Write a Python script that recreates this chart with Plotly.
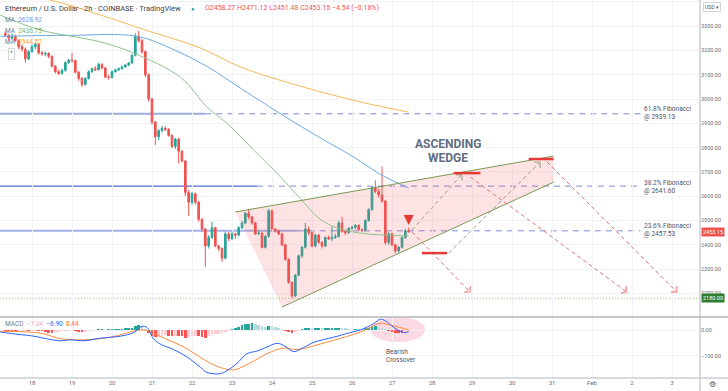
import pandas as pd
import plotly.graph_objects as go
from plotly.subplots import make_subplots

# ---------------- data ----------------
candle_start = "2022-01-17 08:00"
candle_count = 122
candle_times = pd.date_range(candle_start, periods=candle_count, freq="2h")

opens = [3270,3262,3250,3258,3240,3215,3205,3165,3195,3215,
         3225,3190,3185,3188,3175,3135,3112,3105,3118,3150,
         3160,3158,3110,3085,3060,3085,3112,3125,3120,3142,
         3128,3090,3088,3112,3120,3125,3132,3140,3148,3180,
         3258,3240,3195,3100,3000,2905,2845,2870,2880,2875,
         2850,2805,2835,2785,2745,2615,2575,2610,2575,2505,
         2465,2395,2430,2470,2395,2385,2345,2445,2425,2445,
         2440,2470,2490,2530,2515,2490,2445,2448,2390,2435,
         2540,2465,2458,2445,2400,2340,2245,2190,2275,2355,
         2390,2465,2450,2395,2440,2410,2395,2430,2425,2430,
         2435,2490,2455,2450,2468,2472,2480,2462,2460,2500,
         2545,2635,2620,2605,2580,2410,2445,2400,2375,2390,
         2430,2458.27]
highs = [3280,3268,3270,3265,3245,3225,3212,3200,3225,3232,
         3228,3198,3195,3192,3180,3140,3120,3125,3155,3165,
         3190,3162,3115,3090,3090,3118,3130,3135,3150,3148,
         3132,3100,3118,3125,3130,3138,3145,3152,3185,3270,
         3280,3248,3200,3105,3005,2910,2875,2890,2888,2880,
         2855,2840,2840,2790,2750,2625,2618,2615,2580,2510,
         2470,2440,2495,2475,2400,2390,2455,2452,2455,2450,
         2478,2498,2535,2545,2520,2495,2458,2452,2440,2548,
         2545,2470,2462,2450,2405,2345,2250,2280,2360,2395,
         2490,2475,2455,2445,2445,2415,2435,2438,2475,2445,
         2498,2515,2462,2472,2478,2485,2484,2468,2505,2550,
         2640,2665,2630,2722,2585,2452,2450,2405,2395,2435,
         2465,2471.12]
lows = [3255,3240,3245,3235,3205,3195,3150,3160,3190,3205,
        3182,3178,3176,3168,3130,3105,3098,3100,3112,3145,
        3150,3105,3075,3050,3055,3080,3108,3115,3118,3122,
        3085,3080,3085,3108,3115,3120,3128,3135,3145,3175,
        3232,3185,3090,2990,2895,2810,2830,2862,2868,2845,
        2798,2795,2735,2740,2600,2520,2565,2565,2495,2455,
        2310,2385,2425,2390,2375,2330,2340,2415,2420,2425,
        2435,2465,2485,2505,2482,2440,2440,2385,2385,2430,
        2465,2450,2440,2395,2335,2240,2180,2185,2270,2345,
        2385,2440,2390,2390,2405,2385,2390,2420,2415,2425,
        2430,2450,2440,2445,2460,2465,2458,2452,2455,2495,
        2540,2612,2595,2572,2400,2400,2395,2365,2368,2385,
        2425,2451.48]
closes = [3262,3250,3258,3240,3215,3205,3165,3195,3215,3225,
          3190,3185,3188,3175,3135,3112,3105,3118,3150,3160,
          3158,3110,3085,3060,3085,3112,3125,3120,3142,3128,
          3090,3088,3112,3120,3125,3132,3140,3148,3180,3258,
          3240,3195,3100,3000,2905,2845,2870,2880,2875,2850,
          2805,2835,2785,2745,2615,2575,2610,2575,2505,2465,
          2395,2430,2470,2395,2385,2345,2445,2425,2445,2440,
          2470,2490,2530,2515,2490,2445,2448,2390,2435,2540,
          2465,2458,2445,2400,2340,2245,2190,2275,2355,2390,
          2465,2450,2395,2440,2410,2395,2430,2425,2430,2435,
          2490,2455,2450,2468,2472,2480,2462,2460,2500,2545,
          2635,2620,2605,2580,2410,2445,2400,2375,2390,2430,
          2458,2453.15]

macd_hist = [-4,-5,-6,-7,-6,-5,-4,-5,-4,-3,
             -3,-5,-8,-10,-10,-9,-7,-5,-3,-2,
             -1,-4,-7,-9,-8,-5,-2,1,2,2,
             1,3,4,4,5,5,6,7,9,15,
             18,14,5,-10,-22,-28,-26,-22,-20,-22,
             -25,-22,-24,-25,-30,-28,-24,-22,-25,-28,
             -30,-25,-18,-17,-14,-11,-6,-2,3,8,
             13,18,22,25,26,24,20,17,13,16,
             14,10,8,4,-2,-8,-12,-9,-4,2,
             6,7,6,6,8,7,7,7,8,8,
             9,8,6,5,4,4,3,4,6,9,
             12,14,11,8,3,-4,-8,-11,-12,-12,
             -11,-7.34]

macd_t = ["2022-01-17 05:00","2022-01-17 17:00","2022-01-17 23:00","2022-01-18 17:00",
          "2022-01-18 23:00","2022-01-19 07:00","2022-01-19 17:00","2022-01-20 05:00",
          "2022-01-20 13:00","2022-01-20 18:00","2022-01-20 21:00","2022-01-21 01:00",
          "2022-01-21 05:00","2022-01-21 13:00","2022-01-21 21:00","2022-01-22 05:00",
          "2022-01-22 09:00","2022-01-22 17:00","2022-01-22 21:00","2022-01-23 03:00",
          "2022-01-23 09:00","2022-01-23 15:00","2022-01-23 21:00","2022-01-24 03:00",
          "2022-01-24 07:00","2022-01-24 13:00","2022-01-24 19:00","2022-01-25 01:00",
          "2022-01-25 13:00","2022-01-25 23:00","2022-01-26 05:00","2022-01-26 13:00",
          "2022-01-26 17:00","2022-01-26 20:00","2022-01-27 01:00","2022-01-27 07:00",
          "2022-01-27 10:00"]
macd_v = [-8,-18,-22,-42,-38,-42,-32,-24,-10,14,10,-35,-55,-76,-105,-145,-165,-170,
          -158,-130,-92,-82,-66,-52,-60,-84,-68,-48,-28,-10,0,25,42,36,10,-10,-6.9]

signal_t = ["2022-01-17 05:00","2022-01-18 05:00","2022-01-18 17:00","2022-01-19 07:00",
            "2022-01-19 23:00","2022-01-20 17:00","2022-01-20 23:00","2022-01-21 05:00",
            "2022-01-21 19:00","2022-01-22 09:00","2022-01-22 17:00","2022-01-23 01:00",
            "2022-01-23 11:00","2022-01-23 21:00","2022-01-24 07:00","2022-01-24 15:00",
            "2022-01-25 03:00","2022-01-25 13:00","2022-01-26 05:00","2022-01-26 17:00",
            "2022-01-27 01:00","2022-01-27 10:00"]
signal_v = [-5,-12,-34,-38,-28,0,-5,-25,-66,-122,-146,-155,-128,-92,-70,-76,-58,-40,
            -8,26,16,0.44]

ma_blue_t = ["2022-01-17 05:00","2022-01-18 23:00","2022-01-20 15:00","2022-01-21 14:00",
             "2022-01-22 10:00","2022-01-23 05:00","2022-01-24 11:00","2022-01-25 05:00",
             "2022-01-26 01:00","2022-01-26 17:00","2022-01-27 10:00"]
ma_blue_v = [3258,3262,3258,3200,3130,3045,2914,2840,2761,2690,2634]

ma_green_t = ["2022-01-17 05:00","2022-01-18 05:00","2022-01-19 17:00","2022-01-20 13:00",
              "2022-01-21 17:00","2022-01-22 09:00","2022-01-22 21:00","2022-01-23 13:00",
              "2022-01-24 05:00","2022-01-24 17:00","2022-01-25 05:00","2022-01-25 15:00",
              "2022-01-26 05:00","2022-01-26 20:00","2022-01-27 10:00"]
ma_green_v = [3345,3284,3235,3189,3090,2967,2900,2790,2680,2590,2505,2470,2448,2440,2437]

ma_orange_t = ["2022-01-17 05:00","2022-01-18 11:00","2022-01-19 17:00","2022-01-20 20:00",
               "2022-01-22 05:00","2022-01-23 05:00","2022-01-24 17:00","2022-01-26 05:00",
               "2022-01-27 10:00"]
ma_orange_v = [3440,3407,3346,3284,3210,3132,3053,2988,2946]

fib_levels = [2939.13, 2641.60, 2457.53]
fib_names = ["61.8% Fibonacci", "38.2% Fibonacci", "23.6% Fibonacci"]
fib_solid_end = ["2022-01-22 08:00", "2022-01-23 15:00", "2022-01-24 15:30"]
fib_dash_end = "2022-02-02 05:00"
support_level = 2180.0
last_price = 2453.15

wedge_t = ["2022-01-23 02:00", "2022-01-31 01:00", "2022-01-31 01:00", "2022-01-24 06:00"]
wedge_p = [2535, 2765, 2658, 2144]

target_t0 = ["2022-01-27 18:00", "2022-01-28 13:00", "2022-01-30 10:00"]
target_t1 = ["2022-01-28 09:00", "2022-01-29 05:00", "2022-01-31 01:00"]
target_p = [2366, 2695, 2753]

proj_up = [(["2022-01-27 12:00", "2022-01-28 18:00"], [2461, 2690]),
           (["2022-01-28 10:00", "2022-01-30 17:00"], [2366, 2741])]
proj_down = [(["2022-01-27 12:00", "2022-01-28 23:00"], [2453, 2205]),
             (["2022-01-28 23:00", "2022-02-01 21:00"], [2679, 2205]),
             (["2022-01-30 21:00", "2022-02-03 03:00"], [2741, 2205])]

day_ticks = pd.date_range("2022-01-18", "2022-02-03", freq="D")
day_labels = ["18","19","20","21","22","23","24","25","26","27","28","29","30","31","Feb","2","3"]

x_range = ["2022-01-17 04:48", "2022-02-03 16:48"]
price_range = [2103, 3407.4]
macd_range = [-186.8, 50.6]

# ---------------- style ----------------
GREEN = "#26a69a"
RED = "#ef5350"
FONT = "Roboto"
AXIS_TXT = "#6a6d78"
GRID = "#f2f3f7"
W, H = 728, 391
PLOT_W, PLOT_H = 700, 378

fig = make_subplots(rows=2, cols=1, shared_xaxes=True, vertical_spacing=0,
                    row_heights=[317 / 378, 61 / 378])

# wedge fill
fig.add_trace(go.Scatter(x=wedge_t, y=wedge_p, fill="toself", mode="lines",
                         line=dict(width=0), fillcolor="rgba(242,82,90,0.16)",
                         hoverinfo="skip"), row=1, col=1)

# moving averages
for t, v, c in [(ma_orange_t, ma_orange_v, "#f5b955"),
                (ma_blue_t, ma_blue_v, "#6ea8e0"),
                (ma_green_t, ma_green_v, "#8cc48b")]:
    fig.add_trace(go.Scatter(x=t, y=v, mode="lines", line=dict(color=c, width=1, shape="spline"),
                             hoverinfo="skip"), row=1, col=1)

# candles
fig.add_trace(go.Candlestick(x=candle_times, open=opens, high=highs, low=lows, close=closes,
                             increasing=dict(line=dict(color=GREEN, width=1), fillcolor=GREEN),
                             decreasing=dict(line=dict(color=RED, width=1), fillcolor=RED),
                             whiskerwidth=0, hoverinfo="skip"), row=1, col=1)

# wedge edges
fig.add_trace(go.Scatter(x=wedge_t[0:2], y=wedge_p[0:2], mode="lines",
                         line=dict(color="#7a9a52", width=1), hoverinfo="skip"), row=1, col=1)
fig.add_trace(go.Scatter(x=[wedge_t[3], wedge_t[2]], y=[wedge_p[3], wedge_p[2]], mode="lines",
                         line=dict(color="#7a9a52", width=1), hoverinfo="skip"), row=1, col=1)

# projections
for t, p in proj_up:
    fig.add_trace(go.Scatter(x=t, y=p, mode="lines+markers",
                             line=dict(color="#97a38c", width=1, dash="4px,3px"),
                             marker=dict(symbol="arrow-wide-open", size=[0, 6], angleref="previous",
                                         color="#97a38c", line=dict(width=1, color="#97a38c")),
                             hoverinfo="skip"), row=1, col=1)
for t, p in proj_down:
    fig.add_trace(go.Scatter(x=t, y=p, mode="lines+markers",
                             line=dict(color="#e57373", width=1, dash="4px,3px"),
                             marker=dict(symbol="arrow-wide-open", size=[0, 6], angleref="previous",
                                         color="#e57373", line=dict(width=1, color="#e57373")),
                             hoverinfo="skip"), row=1, col=1)

# targets
for t0, t1, p in zip(target_t0, target_t1, target_p):
    fig.add_trace(go.Scatter(x=[t0, t1], y=[p, p], mode="lines",
                             line=dict(color="#e53935", width=2.5), hoverinfo="skip"), row=1, col=1)

# MACD histogram
hist_colors = []
prev = 0
for v in macd_hist:
    if v >= 0:
        hist_colors.append("#26a69a" if v >= prev else "#b2dfdb")
    else:
        hist_colors.append("#ff5252" if v <= prev else "#ffcdd2")
    prev = v
fig.add_trace(go.Bar(x=candle_times, y=macd_hist, marker=dict(color=hist_colors, line=dict(width=0)),
                     width=1.6 * 3600 * 1000, hoverinfo="skip"), row=2, col=1)
fig.add_trace(go.Scatter(x=signal_t, y=signal_v, mode="lines",
                         line=dict(color="#ff8a3d", width=1, shape="spline"), hoverinfo="skip"),
              row=2, col=1)
fig.add_trace(go.Scatter(x=macd_t, y=macd_v, mode="lines",
                         line=dict(color="#2962ff", width=1, shape="spline"), hoverinfo="skip"),
              row=2, col=1)

# ---------------- shapes ----------------
shapes = []
fib_solid_colors = ["#9aaee6", "#4f72cf", "#a3b1ea"]
fib_solid_widths = [2, 1.3, 2]
for lvl, send, col, wd in zip(fib_levels, fib_solid_end, fib_solid_colors, fib_solid_widths):
    shapes.append(dict(type="line", xref="x", yref="y", x0=x_range[0], x1=send, y0=lvl, y1=lvl,
                       line=dict(color=col, width=wd), layer="below"))
    shapes.append(dict(type="line", xref="x", yref="y", x0=send, x1=fib_dash_end, y0=lvl, y1=lvl,
                       line=dict(color="#7f8cd6", width=1, dash="6px,5px"), layer="below"))
shapes.append(dict(type="line", xref="x", yref="y", x0=x_range[0], x1=x_range[1],
                   y0=support_level, y1=support_level,
                   line=dict(color="#9fbf6a", width=1, dash="1px,2px"), layer="below"))
shapes.append(dict(type="circle", xref="x2", yref="y2", x0="2022-01-26 11:00", x1="2022-01-27 20:00",
                   y0=-47, y1=50, fillcolor="rgba(244,150,175,0.35)", line=dict(width=0),
                   layer="below"))
sep = 61 / 378
shapes.append(dict(type="line", xref="paper", yref="paper", x0=0, x1=W / PLOT_W, y0=sep, y1=sep,
                   line=dict(color="#b2b5be", width=1.5)))
shapes.append(dict(type="line", xref="paper", yref="paper", x0=0, x1=W / PLOT_W, y0=0, y1=0,
                   line=dict(color="#b2b5be", width=1)))
shapes.append(dict(type="line", xref="paper", yref="paper", x0=1, x1=1, y0=-13 / PLOT_H, y1=1,
                   line=dict(color="#b2b5be", width=1)))

# ---------------- annotations ----------------
ann = []
def px(xp):
    return xp / PLOT_W
def py(yp):
    return 1 - yp / PLOT_H

def txt(x, y, s, size=7, color="#50535e", xanchor="left", **kw):
    d = dict(xref="paper", yref="paper", x=px(x), y=py(y), text=s, showarrow=False,
             xanchor=xanchor, yanchor="middle", font=dict(family=FONT, size=size, color=color))
    d.update(kw)
    ann.append(d)

txt(3, 8, "Ethereum / U.S. Dollar · 2h · COINBASE · TradingView", size=7.5, color="#3b3e47")
txt(193, 8, "●", size=6, color=GREEN, xanchor="center")
txt(203, 8, "O2458.27 H2471.12 L2451.48 C2453.15 −4.54 (−0.18%)", size=7, color=RED)
txt(3, 20, "MA  <span style='color:#5b9cf6'>2628.92</span>", size=6.5, color="#787b86")
txt(3, 31, "MA  <span style='color:#6fb56e'>2436.75</span>", size=6.5, color="#787b86")
txt(3, 42, "MA  <span style='color:#f5a623'>2944.52</span>", size=6.5, color="#787b86")
txt(11, 54, "^", size=6.5, color="#555", xanchor="center", bordercolor="#d1d4dc", borderwidth=1,
    borderpad=1, bgcolor="white")
txt(3, 324, "MACD  <span style='color:#f7a8b4'>−7.34</span>  <span style='color:#2962ff'>−6.90</span>"
            "  <span style='color:#ff6d00'>0.44</span>", size=6.5, color="#787b86")
txt(712, 7, "USD ▾", size=5, color="#50535e", xanchor="center", bordercolor="#d1d4dc",
    borderwidth=1, borderpad=1, bgcolor="white")
txt(713, 384, "⚙", size=8, color="#50535e", xanchor="center")

# ascending wedge title
for s, yv in [("ASCENDING", 2815), ("WEDGE", 2759)]:
    ann.append(dict(xref="x", yref="y", x="2022-01-28 09:30", y=yv, text="<b>" + s + "</b>",
                    showarrow=False, xanchor="center", yanchor="middle",
                    font=dict(family=FONT, size=12, color="#5f6e80")))

# Fibonacci labels
fib_label_y = [2941, 2640, 2459]
for name, lvl, yv in zip(fib_names, fib_levels, fib_label_y):
    ann.append(dict(xref="x", yref="y", x="2022-02-02 06:00", y=yv,
                    text=name + "<br>@ %.2f" % lvl, showarrow=False, align="left",
                    xanchor="left", yanchor="middle",
                    font=dict(family=FONT, size=6.5, color="#50535e")))

# bearish crossover
ann.append(dict(xref="x2", yref="y2", x="2022-01-26 19:00", y=-102, text="Bearish<br>Crossover",
                showarrow=False, align="left", xanchor="left", yanchor="middle",
                font=dict(family=FONT, size=6.5, color="#50535e")))

# price boxes on axis
for val, bg in [(last_price, "#ef5350"), (support_level, "#2e7d32")]:
    ann.append(dict(xref="paper", yref="y", x=1 + 1 / PLOT_W, y=val, text="%.2f" % val,
                    showarrow=False, xanchor="left", yanchor="middle", bgcolor=bg, borderpad=1,
                    font=dict(family=FONT, size=5.5, color="white")))

# red down arrow at last candle
ann.append(dict(xref="x", yref="y", x=candle_times[-1], y=2482, ax=0, ay=-11, text="",
                showarrow=True, arrowhead=2, arrowsize=0.8, arrowwidth=2.5, arrowcolor="#e53935"))

fig.update_layout(
    width=W, height=H, margin=dict(l=0, r=28, t=0, b=13, autoexpand=False),
    paper_bgcolor="white", plot_bgcolor="white", showlegend=False,
    font=dict(family=FONT, size=7, color=AXIS_TXT),
    shapes=shapes, annotations=ann, bargap=0, hovermode=False,
)
fig.update_xaxes(range=x_range, tickvals=day_ticks, ticktext=day_labels, showgrid=True,
                 gridcolor=GRID, zeroline=False, ticks="", ticklen=0, automargin=False,
                 rangeslider=dict(visible=False),
                 tickfont=dict(family=FONT, size=6, color=AXIS_TXT), showline=False)
fig.update_yaxes(side="right", range=price_range, dtick=100, tick0=0, tickformat=".2f",
                 showgrid=True, gridcolor=GRID, zeroline=False, ticks="", ticklen=0,
                 automargin=False,
                 tickfont=dict(family=FONT, size=5.5, color=AXIS_TXT), row=1, col=1)
fig.update_yaxes(side="right", range=macd_range, tickvals=[0, -100], ticktext=["0.00", "−100.00"],
                 showgrid=True, gridcolor=GRID, zeroline=False, ticks="", ticklen=0,
                 automargin=False,
                 tickfont=dict(family=FONT, size=5.5, color=AXIS_TXT), row=2, col=1)

fig.write_html("out.html", config={"displayModeBar": False, "staticPlot": True},
               post_script="document.body.style.margin='0';document.body.style.padding='0';"
                           "document.documentElement.style.overflow='hidden';")
